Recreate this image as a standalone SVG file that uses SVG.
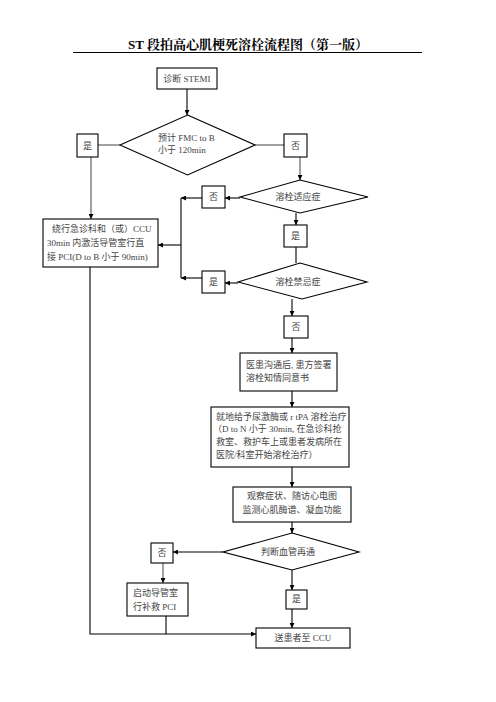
<svg xmlns="http://www.w3.org/2000/svg" width="496" height="702" viewBox="0 0 496 702">
<style>
.b{fill:#fff;stroke:#000;stroke-width:1.1}
.t{font-family:"Liberation Serif","Noto Sans CJK SC",serif;font-size:9px;fill:#444}
.c{text-anchor:middle}
.l{fill:none;stroke:#000;stroke-width:1.1}
.g{stroke:#555}
</style>
<defs>
<marker id="a" viewBox="0 0 10 10" refX="10" refY="5" markerWidth="5" markerHeight="5" orient="auto" markerUnits="userSpaceOnUse">
<path d="M0,0L10,5L0,10z" fill="#000"/>
</marker>
</defs>
<rect width="496" height="702" fill="#fff"/>
<g id="title">
<text x="248" y="49" text-anchor="middle" font-family="'Liberation Serif','Noto Serif CJK SC','Noto Sans CJK SC',serif" font-size="13" font-weight="bold" fill="#000">ST 段拍高心肌梗死溶栓流程图（第一版）</text>
<line x1="73" y1="52.5" x2="422" y2="52.5" stroke="#000" stroke-width="1"/>
</g>
<g id="connectors">
<path class="l" d="M187,89V115" marker-end="url(#a)"/>
<path class="l g" d="M120,145H98"/>
<path class="l g" d="M255,145H284"/>
<path class="l g" d="M91,157V219" marker-end="url(#a)"/>
<path class="l g" d="M300,157V180" marker-end="url(#a)"/>
<path class="l" d="M240,198H225" marker-end="url(#a)"/>
<path class="l" d="M202,198H181" marker-end="url(#a)"/>
<path class="l" d="M181,198V278"/>
<path class="l" d="M181,245H158" marker-end="url(#a)"/>
<path class="l" d="M296,213V225" marker-end="url(#a)"/>
<path class="l" d="M296,247V263"/>
<path class="l" d="M238,283H225" marker-end="url(#a)"/>
<path class="l" d="M202,278H181" marker-end="url(#a)"/>
<path class="l" d="M292,299V316" marker-end="url(#a)"/>
<path class="l" d="M292,338V353" marker-end="url(#a)"/>
<path class="l" d="M292,391V407" marker-end="url(#a)"/>
<path class="l" d="M292,467V487" marker-end="url(#a)"/>
<path class="l" d="M292,522V533" marker-end="url(#a)"/>
<path class="l" d="M223,552H173" marker-end="url(#a)"/>
<path class="l g" d="M163,563V583" marker-end="url(#a)"/>
<path class="l" d="M292,570V590" marker-end="url(#a)"/>
<path class="l" d="M292,609V628" marker-end="url(#a)"/>
<path class="l" d="M90,267V634H256" marker-end="url(#a)"/>
<path class="l" d="M166,616V634"/>
</g>
<g id="n1"><rect class="b" x="157" y="68" width="60" height="21"/><text class="t c" x="187" y="82">诊断 STEMI</text></g>
<g id="d1"><polygon class="b" points="187.5,115 255,145 187.5,175 120,145"/><text class="t" x="158" y="141">预计  FMC to B</text><text class="t" x="158" y="153">小于 120min</text></g>
<g id="y1"><rect class="b" x="77" y="134" width="21" height="23"/><text class="t c" x="87.5" y="149">是</text></g>
<g id="n1no"><rect class="b" x="284" y="134" width="23" height="23"/><text class="t c" x="295.5" y="149">否</text></g>
<g id="d2"><polygon class="b" points="300,180 368,197 300,213 240,197"/><text class="t c" x="298" y="200">溶栓适应症</text></g>
<g id="no2"><rect class="b" x="202" y="186" width="23" height="22"/><text class="t c" x="213.5" y="200">否</text></g>
<g id="yes2"><rect class="b" x="284" y="225" width="23" height="22"/><text class="t c" x="295.5" y="239">是</text></g>
<g id="d3"><polygon class="b" points="300,263 367,282 302,299 238,282"/><text class="t c" x="298" y="285">溶栓禁忌症</text></g>
<g id="yes3"><rect class="b" x="202" y="271" width="23" height="22"/><text class="t c" x="213.5" y="285">是</text></g>
<g id="no3"><rect class="b" x="284" y="316" width="24" height="22"/><text class="t c" x="296" y="330">否</text></g>
<g id="pci"><rect class="b" x="43" y="219" width="115" height="48"/>
<text class="t" x="52" y="232">绕行急诊科和（或）CCU</text>
<text class="t" x="47" y="246">30min  内激活导管室行直</text>
<text class="t" x="47" y="260">接 PCI(D to B 小于 90min)</text></g>
<g id="consent"><rect class="b" x="240" y="353" width="97" height="38"/>
<text class="t" x="246" y="368">医患沟通后, 患方签署</text>
<text class="t" x="246" y="381">溶栓知情同意书</text></g>
<g id="lysis"><rect class="b" x="211" y="407" width="138" height="60"/>
<text class="t" x="216" y="420">就地给予尿激酶或 r tPA 溶栓治疗</text>
<text class="t" x="213" y="432">（D to N 小于 30min, 在急诊科抢</text>
<text class="t" x="216" y="445">救室、救护车上或患者发病所在</text>
<text class="t" x="216" y="458">医院/科室开始溶栓治疗）</text></g>
<g id="observe"><rect class="b" x="233" y="487" width="118" height="35"/>
<text class="t c" x="292" y="499">观察症状、随访心电图</text>
<text class="t c" x="292" y="513">监测心肌酶谱、凝血功能</text></g>
<g id="d4"><polygon class="b" points="292,533 359,552 292,570 223,552"/><text class="t c" x="288" y="555">判断血管再通</text></g>
<g id="no4"><rect class="b" x="151" y="543" width="22" height="20"/><text class="t c" x="162" y="556">否</text></g>
<g id="rescue"><rect class="b" x="127" y="583" width="61" height="33"/>
<text class="t" x="133" y="596">启动导管室</text>
<text class="t" x="133" y="610">行补救 PCI</text></g>
<g id="yes4"><rect class="b" x="286" y="590" width="21" height="19"/><text class="t c" x="296.5" y="602">是</text></g>
<g id="ccu"><rect class="b" x="256" y="628" width="94" height="20"/><text class="t c" x="303" y="641">送患者至 CCU</text></g>
</svg>
